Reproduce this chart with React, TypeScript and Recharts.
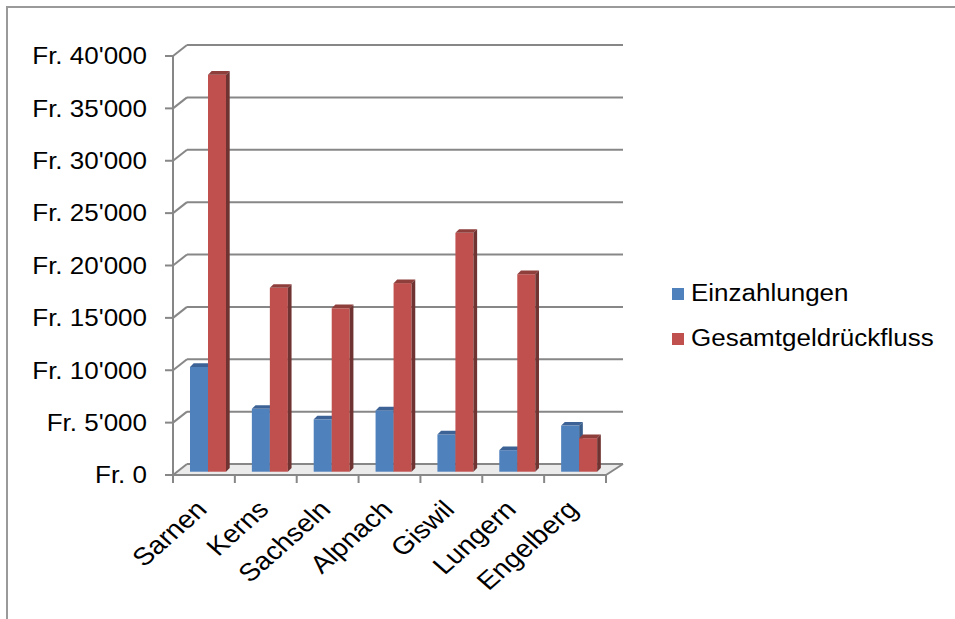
import React from 'react';
import { BarChart, Bar, XAxis, YAxis, CartesianGrid, Legend } from 'recharts';

const CATEGORIES = ['Sarnen', 'Kerns', 'Sachseln', 'Alpnach', 'Giswil', 'Lungern', 'Engelberg'];
const EINZAHLUNGEN = [10000, 6000, 5000, 5850, 3550, 2050, 4400];
const RUECKFLUSS = [37900, 17550, 15600, 18000, 22800, 18850, 3200];
const Y_TICKS = [0, 5000, 10000, 15000, 20000, 25000, 30000, 35000, 40000];

const SERIES = [
  { key: 'einzahlungen', name: 'Einzahlungen', front: '#4F81BD', top: '#3D6396', side: '#385D8A' },
  { key: 'rueckfluss', name: 'Gesamtgeldrückfluss', front: '#C0504D', top: '#8E3E3B', side: '#6F3432' },
];

const data = CATEGORIES.map((name, i) => ({
  name,
  einzahlungen: EINZAHLUNGEN[i],
  rueckfluss: RUECKFLUSS[i],
}));

// layout (page coords, chart sits at 0,0)
const W = 955;
const H = 619;
const PLOT_LEFT = 173;
const PLOT_RIGHT = 606;
const PLOT_TOP = 56;
const PLOT_BOTTOM = 475;
const BAND = (PLOT_RIGHT - PLOT_LEFT) / CATEGORIES.length;
const FONT = '"Liberation Sans", Arial, sans-serif';
const STRETCH = 1.13;
const LINE = '#878787';

const fmt = (v: number) => 'Fr. ' + String(v).replace(/\B(?=(\d{3})+(?!\d))/g, "'");

// back wall gridline + side wall diagonal (+ floor at 0)
const GridLine = (props: any) => {
  const { x1, y1, x2 } = props;
  const bx1 = x1 + 14;
  const bx2 = x2 + 17;
  const by = y1 - 11;
  const isFloor = Math.abs(y1 - PLOT_BOTTOM) < 2;
  return (
    <g>
      {isFloor && (
        <polygon points={`${x1},${y1} ${x2},${y1} ${bx2},${by} ${bx1},${by}`} fill="#ebebeb" />
      )}
      <line x1={x1} y1={y1} x2={bx1} y2={by} stroke={LINE} strokeWidth={2} />
      <line x1={bx1} y1={by} x2={bx2} y2={by} stroke={LINE} strokeWidth={2} />
      {isFloor && <line x1={x2} y1={y1} x2={bx2} y2={by} stroke={LINE} strokeWidth={2} />}
    </g>
  );
};

const YTick = ({ y, payload }: any) => (
  <text
    transform={`translate(147,${y}) scale(${STRETCH},1)`}
    textAnchor="end"
    dy="0.36em"
    fontSize={23}
    fontFamily={FONT}
    fill="#000"
  >
    {fmt(payload.value)}
  </text>
);

const XTick = ({ x, payload, index }: any) => (
  <g>
    <line x1={x - BAND / 2} y1={PLOT_BOTTOM} x2={x - BAND / 2} y2={PLOT_BOTTOM + 8} stroke={LINE} strokeWidth={2} />
    {index === CATEGORIES.length - 1 && (
      <line x1={x + BAND / 2} y1={PLOT_BOTTOM} x2={x + BAND / 2} y2={PLOT_BOTTOM + 8} stroke={LINE} strokeWidth={2} />
    )}
    <text
      transform={`translate(${x + 4.5},${PLOT_BOTTOM + 36}) scale(${STRETCH},1) rotate(-45)`}
      textAnchor="end"
      fontSize={25}
      fontFamily={FONT}
      fill="#000"
    >
      {payload.value}
    </text>
  </g>
);

const make3D = (top: string, side: string) => (props: any) => {
  const { x, y, width, height, fill } = props;
  if (!height || height <= 0) return <g />;
  const fx = x + 4;
  const fy = y - 3.3;
  const d = 3.7;
  return (
    <g>
      <rect x={fx} y={fy} width={width} height={height} fill={fill} />
      <polygon
        points={`${fx},${fy} ${fx + width},${fy} ${fx + width + d},${fy - d} ${fx + d},${fy - d}`}
        fill={top}
      />
      <polygon
        points={`${fx + width},${fy} ${fx + width + d},${fy - d} ${fx + width + d},${fy + height - d} ${fx + width},${fy + height}`}
        fill={side}
      />
    </g>
  );
};

const LegendBox = () => (
  <div style={{ fontFamily: FONT }}>
    {SERIES.map((s) => (
      <div key={s.key} style={{ display: 'flex', alignItems: 'center', height: 45 }}>
        <span style={{ width: 12, height: 12, background: s.front, marginRight: 7, flex: 'none' }} />
        <span
          style={{
            fontSize: 23,
            color: '#000',
            whiteSpace: 'nowrap',
            display: 'inline-block',
            transform: `scaleX(${STRETCH})`,
            transformOrigin: 'left center',
          }}
        >
          {s.name}
        </span>
      </div>
    ))}
  </div>
);

export default function App() {
  return (
    <div style={{ position: 'fixed', left: 0, top: 0, width: W, height: H, overflow: 'hidden', background: '#fff' }}>
      <div
        style={{
          position: 'absolute',
          left: 6,
          top: 6,
          width: 2000,
          height: 2000,
          borderLeft: '2px solid #9a9a9a',
          borderTop: '2px solid #9a9a9a',
        }}
      />
      <div style={{ position: 'absolute', left: 0, top: 0 }}>
        <BarChart
          width={W}
          height={H}
          data={data}
          margin={{ top: PLOT_TOP, right: W - PLOT_RIGHT, bottom: 44, left: 0 }}
          barGap={0}
          barSize={18}
        >
          <CartesianGrid vertical={false} horizontal={GridLine} />
          <XAxis
            dataKey="name"
            interval={0}
            height={100}
            tickLine={false}
            axisLine={{ stroke: LINE, strokeWidth: 2 }}
            tick={XTick}
          />
          <YAxis
            width={PLOT_LEFT}
            domain={[0, 40000]}
            ticks={Y_TICKS}
            interval={0}
            tickSize={8}
            tickLine={{ stroke: LINE, strokeWidth: 2 }}
            axisLine={{ stroke: LINE, strokeWidth: 2 }}
            tick={YTick}
          />
          <Legend
            layout="vertical"
            align="center"
            verticalAlign="middle"
            wrapperStyle={{ left: 672, top: 271, width: 280 }}
            content={LegendBox}
          />
          {SERIES.map((s) => (
            <Bar
              key={s.key}
              dataKey={s.key}
              name={s.name}
              fill={s.front}
              isAnimationActive={false}
              shape={make3D(s.top, s.side)}
            />
          ))}
        </BarChart>
      </div>
    </div>
  );
}
